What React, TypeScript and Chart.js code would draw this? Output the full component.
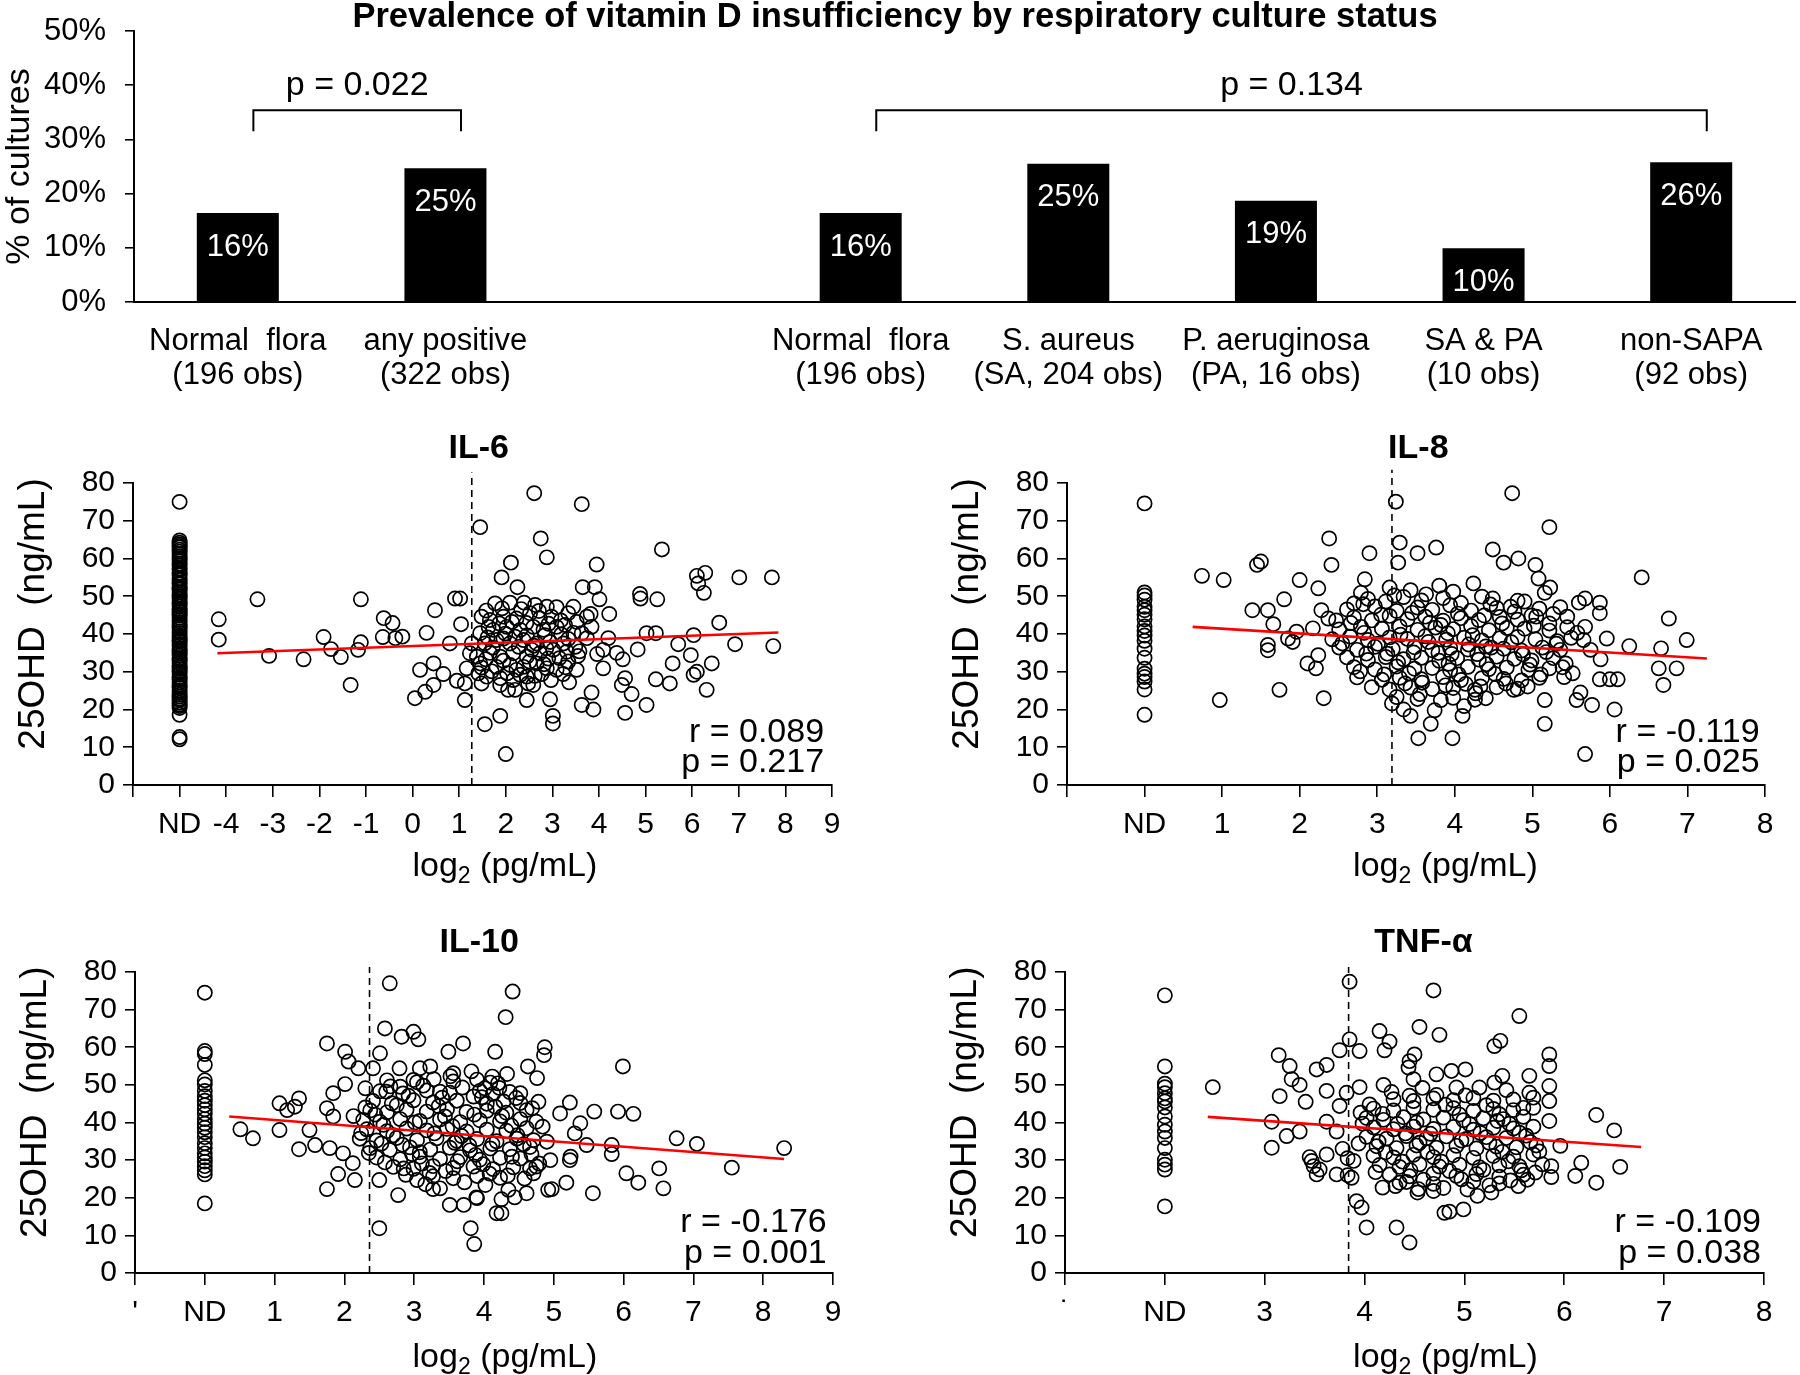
import React, { useEffect, useRef } from "react";
import { Chart, registerables } from "chart.js";
Chart.register(...registerables);

const FONT = "'Liberation Sans', Arial, Helvetica, sans-serif";

// ---------------- top panel data ----------------
const chartTitle = "Prevalence of vitamin D insufficiency by respiratory culture status";
const cultureGroups = ["Normal  flora", "any positive", "", "Normal  flora", "S. aureus", "P. aeruginosa", "SA & PA", "non-SAPA"];
const cultureObs = ["(196 obs)", "(322 obs)", "", "(196 obs)", "(SA, 204 obs)", "(PA, 16 obs)", "(10 obs)", "(92 obs)"];
const insufficiencyPct = [16.4, 24.7, null, 16.4, 25.5, 18.7, 9.9, 25.8];
const insufficiencyLabels = ["16%", "25%", "", "16%", "25%", "19%", "10%", "26%"];
const pctTicks = [0, 10, 20, 30, 40, 50];
const comparisonPairs = [[0, 1], [3, 7]];
const comparisonP = ["p = 0.022", "p = 0.134"];

// ---------------- scatter data ----------------
const il6ND = [75.0, 64.8, 64.2, 63.7, 63.3, 62.9, 62.3, 61.8, 61.2, 60.6, 60.1, 59.8, 59.3, 58.6, 58.1, 57.4, 57.0, 56.2, 55.9, 55.5, 54.8, 54.3, 53.6, 53.1, 52.4, 52.0, 51.7, 51.1, 50.5, 50.1, 49.8, 49.3, 48.7, 48.2, 47.9, 47.3, 46.6, 46.2, 45.8, 45.3, 44.9, 44.3, 43.7, 43.2, 42.6, 42.1, 41.8, 41.3, 40.7, 40.2, 39.5, 39.1, 38.6, 38.2, 37.9, 37.3, 36.8, 36.2, 35.7, 35.3, 34.9, 34.3, 33.6, 33.2, 32.8, 32.2, 31.5, 31.1, 30.7, 30.2, 29.9, 29.3, 28.6, 28.2, 27.8, 27.2, 26.5, 26.1, 25.7, 25.1, 24.6, 23.9, 23.4, 22.9, 22.5, 21.8, 21.3, 20.9, 20.4, 18.6, 12.7, 12.1];
const il6Points = [
  [-4.16, 43.9], [-4.16, 38.5], [-3.33, 49.2], [-3.08, 34.2], [-2.34, 33.3], [-1.91, 39.2], [-1.75, 36.0], [-1.54, 33.9], [-1.33, 26.5], [-1.17, 35.8], [-1.11, 37.8], [-1.11, 49.2], [-0.62, 44.2], [-0.64, 39.2], [-0.43, 42.9], [-0.37, 38.9], [-0.22, 39.3],
  [2.61, 77.3], [3.63, 74.4], [1.45, 68.3], [2.75, 65.3], [2.88, 60.3], [2.11, 58.9], [3.95, 58.4], [5.35, 62.4], [1.91, 55.0], [2.25, 52.4], [3.65, 52.4], [3.91, 52.4], [4.01, 49.2], [6.10, 55.4], [6.28, 56.2], [6.13, 53.4], [6.25, 50.9], [7.01, 55.0], [7.71, 55.0], [4.88, 50.6], [4.89, 49.4], [5.25, 49.2], [0.91, 49.4], [1.02, 49.4], [0.48, 46.3], [1.04, 42.6], [4.22, 45.3], [3.82, 45.3], [6.58, 43.0], [5.02, 40.2], [5.22, 40.2], [4.20, 38.9], [6.03, 39.7], [6.92, 37.3], [7.74, 36.8], [5.70, 37.3], [4.83, 35.9], [4.38, 35.0], [4.51, 33.3], [3.96, 34.7], [4.09, 30.9], [5.58, 32.2], [5.97, 34.4], [6.42, 32.2], [6.10, 30.0], [6.03, 29.2], [6.31, 25.2], [5.22, 28.0], [5.52, 26.9], [4.56, 28.3], [4.49, 26.5], [4.70, 24.1], [5.02, 21.2], [4.56, 19.1], [3.84, 24.5], [3.63, 21.2], [3.88, 20.0], [2.95, 22.7], [3.01, 18.3], [3.01, 16.3], [2.00, 8.2], [1.88, 18.3], [1.55, 16.1], [2.45, 22.5], [2.20, 25.2], [1.88, 26.5], [1.48, 26.9], [1.12, 22.5], [1.12, 26.9], [0.95, 27.6], [0.66, 29.4], [0.45, 32.2], [0.16, 30.5], [0.05, 23.0], [0.27, 24.7], [0.45, 26.5], [0.30, 40.3], [0.80, 37.5], [1.23, 34.9], [1.16, 30.9], [3.23, 29.4], [3.52, 30.5], [4.09, 35.8],
  [1.77, 48.1], [2.09, 48.3], [2.39, 48.3], [2.63, 47.7], [2.88, 47.2], [3.09, 47.1], [3.34, 45.5], [1.48, 44.6], [1.66, 43.7], [1.95, 44.6], [2.23, 44.1], [2.52, 45.5], [2.73, 44.1], [2.98, 44.6], [1.45, 40.2], [1.73, 41.1], [2.02, 41.9], [2.31, 41.1], [2.59, 41.9], [2.81, 41.1], [3.09, 41.9], [3.45, 40.3], [3.63, 40.2], [1.55, 37.5], [1.80, 38.4], [2.09, 37.5], [2.38, 38.4], [2.66, 37.5], [2.95, 37.9], [3.24, 37.5], [3.49, 36.6], [1.66, 35.0], [1.88, 34.0], [2.16, 34.9], [2.45, 34.0], [2.73, 34.9], [3.02, 35.8], [3.31, 35.3], [1.45, 32.2], [1.80, 31.3], [2.09, 31.8], [2.38, 31.3], [2.66, 32.2], [2.88, 30.9], [3.09, 30.5], [1.59, 28.7], [1.88, 28.3], [2.16, 27.8], [2.45, 28.7], [2.59, 26.5], [1.41, 29.6], [1.27, 37.5], [2.23, 30.5], [2.77, 29.4], [2.48, 26.9], [2.05, 25.2], [1.63, 41.9], [2.20, 39.3], [2.56, 35.8], [2.91, 33.5], [3.34, 32.7], [3.74, 38.9], [3.84, 41.9], [3.74, 44.6], [3.45, 47.2], [1.95, 38.8], [1.38, 34.0],
  [1.58, 46.2], [1.92, 46.8], [2.33, 46.6], [2.71, 46.1], [3.18, 43.6], [3.52, 43.2], [1.86, 42.8], [2.13, 43.2], [2.44, 42.9], [2.92, 42.7], [3.27, 42.4], [1.61, 39.1], [1.99, 40.1], [2.45, 39.6], [2.84, 39.7], [3.34, 38.7], [3.58, 35.4], [1.72, 36.4], [2.28, 36.6], [2.60, 36.9], [3.15, 33.6], [3.55, 34.2], [1.57, 33.3], [1.95, 32.9], [2.51, 32.7], [2.82, 32.0], [3.28, 31.2], [1.70, 30.1], [2.31, 29.2], [2.62, 28.9], [2.97, 27.8], [3.36, 27.2], [1.48, 31.1], [2.03, 29.6], [2.87, 36.2], [3.19, 39.9]
];
const il6Fit = [[-4.19, 34.9], [7.85, 40.4]];
const il6Cut = 1.27;
const il6Stats = ["r = 0.089", "p = 0.217"];

const il8ND = [74.6, 18.6, 25.3, 27.4, 28.6, 29.5, 30.8, 33.7, 36.1, 38.2, 39.6, 40.8, 42.0, 43.9, 45.1, 46.3, 47.2, 49.1, 50.2, 51.0];
const il8Points = [
  [3.24, 75.05], [4.74, 77.3], [5.22, 68.3], [2.38, 65.3], [2.41, 58.3], [2.90, 61.4], [3.29, 64.2], [3.27, 58.9], [3.52, 61.4], [3.76, 62.9], [4.49, 62.4], [4.63, 58.9], [4.82, 60.0], [5.04, 58.3], [5.08, 54.7], [5.23, 52.3], [5.16, 50.9], [6.41, 55.0], [1.45, 58.3], [1.50, 59.2], [0.74, 55.4], [1.02, 54.3], [2.00, 54.3], [2.24, 52.1], [1.80, 49.2], [2.84, 54.5], [2.79, 50.9], [2.70, 48.1], [1.39, 46.3], [1.59, 46.3], [1.66, 42.6], [2.28, 46.3], [2.37, 44.1], [2.17, 41.5], [1.96, 40.6], [1.85, 38.8], [1.91, 37.9], [1.59, 37.1], [1.59, 35.7], [2.10, 32.2], [2.21, 30.9], [2.24, 34.4], [0.97, 22.5], [1.74, 25.2], [2.31, 23.0], [6.76, 44.1], [6.99, 38.4], [6.25, 36.8], [6.66, 36.2], [6.63, 30.9], [6.86, 30.9], [6.69, 26.5], [5.87, 48.3], [5.68, 49.4], [5.60, 48.3], [5.87, 45.5], [5.96, 38.8], [5.68, 41.9], [5.88, 33.3], [6.00, 28.0], [6.10, 28.0], [5.87, 28.0], [5.62, 24.5], [5.57, 22.5], [5.77, 21.2], [6.06, 20.0], [5.16, 22.5], [5.16, 16.2], [5.68, 8.2], [3.53, 12.4], [3.97, 12.4], [3.69, 16.2], [3.43, 18.3], [3.34, 20.0], [4.10, 18.3], [3.82, 22.5], [4.40, 23.0], [4.76, 25.2], [5.52, 29.6], [5.43, 32.2], [4.24, 53.4], [4.49, 49.4], [4.72, 47.2], [4.90, 48.6], [5.05, 44.6], [5.22, 42.8], [5.45, 44.6], [5.66, 38.4], [5.75, 35.8],
  [3.16, 52.3], [3.43, 51.6], [3.80, 52.8], [3.98, 51.2],
  [2.88, 49.3], [3.11, 48.6], [3.34, 49.8], [3.57, 48.9], [3.85, 49.5], [4.08, 48.2], [4.35, 49.9], [4.81, 48.8],
  [2.61, 46.5], [2.97, 47.3], [3.25, 46.1], [3.52, 47.0], [3.71, 46.4], [3.94, 47.6], [4.21, 46.2], [4.54, 46.9], [5.09, 46.7], [5.36, 47.1],
  [2.70, 44.4], [2.93, 43.6], [3.16, 44.8], [3.39, 43.9], [3.62, 44.6], [3.85, 43.5], [4.08, 44.2], [4.31, 43.7], [4.58, 44.5], [4.81, 43.8], [4.99, 44.9],
  [2.51, 41.2], [2.79, 41.9], [3.06, 41.4], [3.29, 42.0], [3.52, 41.1], [3.75, 41.7], [3.98, 41.3], [4.21, 42.1], [4.44, 41.0], [4.67, 41.6], [4.90, 41.4], [5.22, 40.9], [5.45, 41.8],
  [2.42, 38.6], [2.65, 39.3], [2.88, 38.4], [3.16, 39.1], [3.39, 38.7], [3.62, 39.4], [3.89, 38.5], [4.12, 39.0], [4.35, 38.3], [4.58, 38.9], [4.81, 39.2], [5.04, 38.6], [5.32, 38.1], [5.50, 39.0],
  [2.51, 36.4], [2.74, 35.8], [2.97, 36.6], [3.20, 36.0], [3.48, 36.5], [3.71, 35.7], [3.94, 36.3], [4.17, 35.9], [4.40, 36.7], [4.63, 36.1], [4.86, 35.6], [5.13, 36.4], [5.36, 35.8],
  [2.61, 33.8], [2.88, 33.1], [3.11, 33.9], [3.34, 33.3], [3.57, 33.7], [3.80, 32.9], [4.03, 33.6], [4.31, 33.2], [4.54, 34.0], [4.77, 33.4], [4.99, 33.0], [5.27, 33.6],
  [2.70, 31.2], [2.97, 30.6], [3.25, 31.4], [3.48, 30.8], [3.71, 31.0], [3.94, 30.4], [4.17, 31.3], [4.44, 30.7], [4.67, 31.1], [4.95, 30.5], [5.22, 30.9],
  [2.74, 28.5], [3.06, 27.9], [3.29, 28.4], [3.57, 28.0], [3.85, 28.6], [4.08, 27.8], [4.35, 28.3], [4.63, 28.1], [4.86, 27.7], [5.09, 28.4],
  [2.93, 25.9], [3.16, 25.3], [3.43, 25.8], [3.71, 25.4], [3.98, 25.7], [4.26, 25.2], [4.54, 25.9], [4.81, 25.5],
  [3.25, 23.3], [3.52, 22.8], [3.98, 23.1], [4.26, 22.6],
  [2.66, 42.9], [2.83, 40.3], [3.01, 37.4], [3.13, 34.8], [3.27, 32.5], [3.41, 29.6], [3.58, 27.1], [3.66, 37.9], [3.79, 35.0], [3.92, 32.1], [4.05, 29.3], [4.14, 26.8], [4.27, 24.3], [3.45, 45.6], [3.68, 43.0], [3.91, 40.2], [4.04, 45.4], [4.18, 37.2], [4.29, 34.7], [4.41, 32.0], [4.52, 29.4], [4.66, 26.9], [4.73, 37.8], [4.88, 34.6], [4.97, 31.9], [5.11, 29.3], [5.18, 35.2], [5.31, 37.4], [5.39, 31.2], [4.46, 47.8], [4.61, 42.8], [4.77, 45.9], [3.05, 45.1], [2.82, 47.9], [3.22, 50.2], [3.63, 50.5], [3.55, 24.1], [3.36, 26.9], [3.09, 29.3], [2.86, 34.8], [2.55, 37.5], [2.47, 43.6], [2.78, 30.1], [3.74, 19.8], [3.88, 26.4], [4.12, 20.9], [4.33, 26.1], [3.19, 21.6], [3.47, 35.1], [3.96, 34.7], [4.23, 39.7], [4.47, 36.4], [5.02, 42.2], [5.27, 45.3], [5.58, 40.3], [5.41, 28.6], [4.94, 26.1], [3.30, 39.8], [3.82, 42.4], [4.38, 44.9]
];
const il8Fit = [[0.62, 41.9], [7.25, 33.5]];
const il8Cut = 3.19;
const il8Stats = ["r = -0.119", "p = 0.025"];

const il10ND = [74.5, 18.5, 26.2, 27.3, 28.4, 29.6, 30.7, 31.8, 33.2, 34.5, 36.1, 37.4, 38.6, 39.7, 40.9, 42.3, 43.5, 44.6, 45.8, 47.0, 48.4, 50.1, 51.2, 55.3, 58.2, 59.0];
const il10Points = [
  [2.65, 77.0], [4.41, 74.8], [4.31, 68.0], [2.58, 65.0], [2.82, 62.8], [2.99, 64.1], [3.06, 62.1], [1.75, 61.0], [3.70, 61.0], [3.49, 58.8], [4.16, 58.8], [4.87, 60.0], [4.86, 57.9], [2.01, 58.8], [2.51, 58.4], [2.06, 56.2], [2.20, 54.4], [2.41, 54.4], [2.79, 54.4], [3.08, 54.4], [3.23, 54.9], [3.56, 53.1], [4.63, 54.9], [5.99, 54.9], [4.76, 51.8], [4.12, 52.2], [4.01, 49.1], [4.20, 50.4], [2.01, 50.2], [1.84, 47.8], [2.30, 49.1], [2.60, 48.2], [2.80, 49.5], [2.99, 51.3], [3.37, 48.2], [3.85, 46.9], [4.52, 47.8], [4.78, 45.5], [5.23, 45.3], [5.58, 42.9], [5.92, 42.9], [6.14, 42.3], [6.76, 35.8], [7.05, 34.3], [5.83, 34.0], [5.83, 31.6], [5.47, 34.0], [5.23, 30.0], [4.95, 30.0], [6.04, 26.5], [6.21, 24.0], [6.51, 27.8], [6.57, 22.5], [5.56, 21.2], [5.18, 24.0], [4.97, 22.3], [4.61, 21.2], [4.25, 19.6], [4.18, 15.9], [4.25, 15.9], [3.81, 11.9], [3.86, 7.7], [3.51, 18.1], [3.71, 18.1], [3.90, 19.9], [2.50, 11.9], [1.75, 22.3], [2.50, 24.7], [2.77, 20.7], [2.15, 24.7], [1.91, 26.3], [2.12, 29.2], [1.98, 31.8], [1.79, 33.2], [1.58, 34.0], [1.35, 32.9], [0.69, 35.8], [0.51, 38.2], [1.07, 38.0], [1.50, 38.0], [1.07, 45.1], [1.18, 43.3], [1.35, 46.4], [1.29, 44.2], [1.75, 43.8], [1.84, 41.6], [2.13, 41.7], [2.30, 44.0], [2.85, 27.8], [3.04, 24.7], [3.27, 22.3], [3.37, 22.5], [3.89, 20.1], [4.35, 22.1], [4.44, 20.1], [4.71, 26.5], [4.75, 28.3], [4.92, 22.1], [4.90, 34.9], [5.24, 30.9], [5.30, 37.1], [5.38, 39.8], [5.09, 42.4], [8.30, 33.2], [7.55, 28.0],
  [2.61, 51.2], [3.04, 50.7], [3.28, 51.5], [3.56, 50.9], [3.90, 51.4], [4.09, 50.6],
  [2.51, 48.3], [2.84, 47.7], [3.18, 48.5], [3.51, 47.9], [3.94, 48.4], [4.13, 47.6], [4.37, 48.1],
  [2.41, 45.7], [2.68, 45.1], [2.99, 45.9], [3.27, 45.3], [3.61, 45.8], [4.04, 45.0], [4.28, 45.6], [4.52, 45.2],
  [2.37, 43.2], [2.61, 42.7], [2.89, 43.4], [3.18, 42.9], [3.47, 43.5], [3.75, 42.8], [4.04, 43.1], [4.32, 42.6], [4.61, 43.3],
  [2.27, 40.7], [2.51, 40.2], [2.80, 40.9], [3.08, 40.4], [3.37, 40.8], [3.66, 40.1], [3.94, 40.6], [4.23, 40.3], [4.52, 40.9], [4.75, 40.2],
  [2.32, 38.2], [2.61, 37.7], [2.89, 38.4], [3.18, 37.9], [3.47, 38.3], [3.75, 37.6], [4.04, 38.1], [4.32, 37.8], [4.61, 38.5],
  [2.22, 35.7], [2.46, 35.2], [2.75, 35.9], [3.04, 35.3], [3.32, 35.8], [3.61, 35.1], [3.90, 35.6], [4.18, 35.0], [4.47, 35.7], [4.71, 35.3],
  [2.37, 33.2], [2.65, 32.7], [2.94, 33.4], [3.23, 32.8], [3.51, 33.3], [3.80, 32.6], [4.09, 33.1], [4.37, 32.9], [4.66, 33.5],
  [2.46, 30.7], [2.80, 30.2], [3.08, 30.9], [3.37, 30.3], [3.66, 30.8], [3.94, 30.1], [4.23, 30.6], [4.52, 30.4],
  [2.70, 28.2], [2.99, 27.7], [3.27, 28.4], [3.56, 27.9], [3.85, 28.3], [4.13, 27.6], [4.42, 28.1], [4.66, 27.8],
  [3.27, 25.7], [3.56, 25.2], [3.90, 25.8], [4.23, 25.3],
  [2.44, 42.1], [2.56, 39.4], [2.70, 36.6], [2.83, 34.1], [2.97, 31.6], [3.11, 29.1], [3.22, 26.6], [3.35, 44.3], [3.44, 41.6], [3.55, 39.0], [3.68, 36.4], [3.79, 33.9], [3.88, 31.4], [3.99, 28.9], [4.08, 26.4], [4.16, 44.2], [4.26, 41.7], [4.39, 39.2], [4.48, 36.6], [4.57, 34.2], [4.68, 31.6], [4.79, 29.1], [2.66, 49.6], [2.92, 47.1], [3.13, 49.8], [3.40, 46.6], [3.69, 49.3], [3.97, 46.7], [4.22, 49.2], [4.46, 46.5], [4.69, 43.8], [4.84, 38.9], [2.35, 31.9], [2.58, 29.4], [2.88, 26.1], [3.16, 23.6], [3.45, 27.1], [3.72, 24.1], [4.02, 23.4], [4.34, 25.9], [4.58, 25.1], [2.24, 37.2], [2.53, 34.4], [3.01, 40.0], [3.29, 37.1], [3.58, 34.6], [3.86, 42.1], [4.12, 34.3], [4.40, 30.9], [3.62, 29.7], [3.08, 32.1], [2.75, 44.6], [3.52, 52.3], [3.82, 53.6], [4.33, 52.9]
];
const il10Fit = [[0.35, 41.6], [8.3, 30.3]];
const il10Cut = 2.36;
const il10Stats = ["r = -0.176", "p = 0.001"];

const tnfND = [73.8, 54.9, 50.3, 49.4, 47.8, 46.4, 45.6, 44.0, 41.6, 39.4, 37.6, 35.9, 33.2, 30.1, 28.8, 27.5, 17.7];
const tnfPoints = [
  [3.85, 77.4], [4.69, 75.1], [5.55, 68.3], [2.48, 49.4], [3.14, 57.9], [3.25, 55.0], [3.27, 51.5], [3.35, 50.0], [3.15, 47.0], [3.62, 48.4], [3.52, 54.1], [3.62, 55.3], [3.75, 59.2], [3.85, 62.1], [3.95, 59.0], [4.15, 64.3], [4.25, 61.5], [4.20, 59.2], [4.55, 65.4], [4.75, 63.3], [5.30, 60.3], [5.36, 61.7], [5.01, 54.1], [5.38, 52.4], [5.65, 52.4], [5.85, 58.1], [5.85, 55.0], [5.85, 49.7], [5.85, 45.7], [5.85, 40.4], [6.32, 42.0], [6.50, 37.9], [6.56, 28.2], [6.32, 24.0], [6.17, 29.3], [6.11, 25.8], [5.87, 25.5], [5.87, 28.4], [5.96, 33.8], [5.54, 23.1], [4.99, 16.9], [4.80, 16.0], [4.85, 16.3], [3.92, 19.1], [3.97, 17.4], [4.02, 12.1], [4.32, 12.1], [4.45, 8.1], [5.13, 20.5], [5.27, 21.4], [4.69, 21.8], [4.53, 21.4], [4.35, 24.0], [4.18, 22.7], [3.87, 25.3], [3.89, 29.8], [3.72, 26.2], [3.49, 28.4], [3.47, 29.8], [3.52, 26.2], [3.07, 33.3], [3.22, 36.4], [3.35, 37.6], [3.07, 40.2], [3.41, 45.5], [3.62, 40.2], [3.72, 37.6], [3.75, 44.4], [3.82, 47.9], [3.95, 49.4], [4.19, 50.0], [4.49, 51.5], [4.45, 56.3], [4.50, 58.1], [4.44, 54.6], [4.72, 52.8], [4.87, 53.7], [4.92, 49.3], [5.15, 49.3], [5.30, 50.6], [5.65, 47.9], [5.69, 46.6], [5.59, 43.9], [3.83, 30.5], [3.83, 26.0], [3.45, 30.8], [3.55, 27.5], [3.62, 31.5], [3.78, 33.0],
  [4.29, 46.2], [4.49, 45.7], [4.69, 46.4], [4.89, 45.9], [5.09, 46.5], [5.29, 45.8], [5.49, 46.1],
  [4.09, 43.7], [4.29, 43.2], [4.49, 43.9], [4.69, 43.4], [4.89, 43.8], [5.09, 43.1], [5.29, 43.6], [5.49, 43.3], [5.69, 43.9],
  [4.02, 41.2], [4.19, 40.7], [4.39, 41.4], [4.59, 40.8], [4.79, 41.3], [4.99, 40.6], [5.19, 41.1], [5.39, 40.9], [5.59, 41.5],
  [4.09, 38.7], [4.29, 38.2], [4.49, 38.9], [4.69, 38.3], [4.89, 38.8], [5.09, 38.1], [5.29, 38.6], [5.49, 38.4], [5.69, 38.9],
  [4.02, 36.2], [4.22, 35.7], [4.42, 36.4], [4.62, 35.8], [4.82, 36.3], [5.02, 35.6], [5.22, 36.1], [5.42, 35.9], [5.62, 36.5],
  [4.12, 33.7], [4.32, 33.2], [4.52, 33.9], [4.72, 33.3], [4.92, 33.8], [5.12, 33.1], [5.32, 33.6], [5.52, 33.4], [5.72, 33.9],
  [4.09, 31.2], [4.29, 30.7], [4.49, 31.4], [4.69, 30.8], [4.89, 31.3], [5.09, 30.6], [5.29, 31.1], [5.49, 30.9], [5.69, 31.5],
  [4.15, 28.7], [4.35, 28.2], [4.55, 28.9], [4.75, 28.3], [4.95, 28.8], [5.15, 28.1], [5.35, 28.6], [5.55, 28.4],
  [4.25, 26.2], [4.45, 25.7], [4.69, 26.4], [4.92, 25.8], [5.12, 26.3], [5.35, 25.6], [5.59, 26.1],
  [4.42, 24.2], [4.69, 23.7], [5.09, 24.3], [5.35, 23.8],
  [4.05, 44.8], [4.18, 42.3], [4.33, 39.6], [4.41, 37.1], [4.55, 34.6], [4.63, 32.1], [4.77, 29.6], [4.85, 27.1], [4.97, 24.9], [4.14, 34.9], [4.21, 32.1], [4.38, 29.6], [4.46, 27.3], [4.59, 24.8], [4.72, 47.3], [4.81, 44.7], [4.95, 42.1], [5.05, 39.6], [5.16, 37.2], [5.25, 34.6], [5.38, 32.2], [5.44, 29.7], [5.57, 27.3], [5.63, 24.8], [5.01, 47.2], [5.22, 44.6], [5.35, 42.2], [5.45, 39.7], [5.55, 37.3], [5.66, 34.8], [5.75, 32.3], [5.78, 28.9], [5.71, 26.7], [4.27, 48.1], [4.58, 49.2], [5.42, 48.6], [4.11, 26.8], [4.31, 23.1], [4.54, 22.3], [4.79, 22.6], [5.03, 22.2], [5.25, 23.3], [5.46, 24.6], [3.98, 39.7], [3.94, 34.4], [4.52, 40.0], [4.97, 35.2], [5.19, 27.4], [4.66, 37.0], [5.33, 40.4], [3.96, 42.6], [4.45, 47.1]
];
const tnfFit = [[2.43, 41.5], [6.77, 33.5]];
const tnfCut = 3.84;
const tnfStats = ["r = -0.109", "p = 0.038"];

const vitDTicks = [0, 10, 20, 30, 40, 50, 60, 70, 80];
const yTitle = "25OHD  (ng/mL)";

// ---------------- layout (positions, not data) ----------------
type PanelSpec = {
  title: string; left: number; top: number; w: number; h: number;
  area: { l: number; r: number; t: number; b: number };
  xMin: number; xMax: number; ndX: number; edgeLabel: string;
  nd: number[]; pts: number[][]; fit: number[][]; cut: number; cutTop: number; stats: string[];
  titleAt: number[]; statX: number; statY: number[]; xTitleAt: number[]; yTitleY: number;
};

const panels: PanelSpec[] = [
  { title: "IL-6", left: 0, top: 420, w: 900, h: 470, area: { l: 133, r: 832, t: 63, b: 365 }, xMin: -6, xMax: 9, ndX: -5, edgeLabel: "",
    nd: il6ND, pts: il6Points, fit: il6Fit, cut: il6Cut, cutTop: 82.8, stats: il6Stats,
    titleAt: [1.42, 89.0], statX: 8.83, statY: [13.8, 5.8], xTitleAt: [1.98, -20.9], yTitleY: 45.3 },
  { title: "IL-8", left: 900, top: 420, w: 900, h: 470, area: { l: 167, r: 865, t: 63, b: 365 }, xMin: -1, xMax: 8, ndX: 0, edgeLabel: "",
    nd: il8ND, pts: il8Points, fit: il8Fit, cut: il8Cut, cutTop: 83.5, stats: il8Stats,
    titleAt: [3.53, 89.0], statX: 7.93, statY: [13.8, 5.8], xTitleAt: [3.88, -20.9], yTitleY: 45.3 },
  { title: "IL-10", left: 0, top: 900, w: 900, h: 475, area: { l: 135, r: 833, t: 72, b: 373 }, xMin: -1, xMax: 9, ndX: 0, edgeLabel: "'",
    nd: il10ND, pts: il10Points, fit: il10Fit, cut: il10Cut, cutTop: 81.3, stats: il10Stats,
    titleAt: [3.93, 87.7], statX: 8.91, statY: [13.3, 5.05], xTitleAt: [4.30, -21.8], yTitleY: 45.4 },
  { title: "TNF-α", left: 900, top: 900, w: 900, h: 475, area: { l: 165, r: 864, t: 72, b: 373 }, xMin: 1, xMax: 8, ndX: 2, edgeLabel: "˙",
    nd: tnfND, pts: tnfPoints, fit: tnfFit, cut: tnfCut, cutTop: 81.3, stats: tnfStats,
    titleAt: [4.59, 87.7], statX: 7.97, statY: [13.3, 5.05], xTitleAt: [4.81, -21.8], yTitleY: 45.4 },
];

function drawLogTitle(ctx: CanvasRenderingContext2D, cx: number, cy: number) {
  const big = `34px ${FONT}`;
  const small = `23px ${FONT}`;
  ctx.font = big;
  const w1 = ctx.measureText("log").width;
  const w3 = ctx.measureText(" (pg/mL)").width;
  ctx.font = small;
  const w2 = ctx.measureText("2").width;
  const total = w1 + w2 + w3;
  let x = cx - total / 2;
  ctx.textAlign = "left";
  ctx.textBaseline = "alphabetic";
  const base = cy + 12;
  ctx.font = big;
  ctx.fillText("log", x, base);
  x += w1;
  ctx.font = small;
  ctx.fillText("2", x, base + 7);
  x += w2;
  ctx.font = big;
  ctx.fillText(" (pg/mL)", x, base);
}

function scatterConfig(p: PanelSpec): any {
  const annot = {
    id: "annot",
    afterDraw(chart: any) {
      const { ctx, scales, chartArea } = chart;
      const xs = scales.x, ys = scales.y;
      ctx.save();
      ctx.fillStyle = "#000";
      ctx.font = `bold 34px ${FONT}`;
      ctx.textAlign = "center";
      ctx.textBaseline = "middle";
      ctx.fillText(p.title, xs.getPixelForValue(p.titleAt[0]), ys.getPixelForValue(p.titleAt[1]));
      ctx.font = `34px ${FONT}`;
      ctx.textAlign = "right";
      ctx.fillText(p.stats[0], xs.getPixelForValue(p.statX), ys.getPixelForValue(p.statY[0]));
      ctx.fillText(p.stats[1], xs.getPixelForValue(p.statX), ys.getPixelForValue(p.statY[1]));
      drawLogTitle(ctx, xs.getPixelForValue(p.xTitleAt[0]), ys.getPixelForValue(p.xTitleAt[1]));
      ctx.translate(chartArea.left - 99, ys.getPixelForValue(p.yTitleY));
      ctx.rotate(-Math.PI / 2);
      ctx.font = `37px ${FONT}`;
      ctx.textAlign = "center";
      ctx.textBaseline = "middle";
      ctx.fillText(yTitle, 0, 0);
      ctx.restore();
    },
  };
  const points = [...p.nd.map((v) => ({ x: p.ndX, y: v })), ...p.pts.map(([x, y]) => ({ x, y }))];
  return {
    type: "scatter",
    data: {
      datasets: [
        { data: p.fit.map(([x, y]) => ({ x, y })), showLine: true, borderColor: "#ff0000", borderWidth: 2.6, pointRadius: 0, order: 0, clip: false },
        { data: [{ x: p.cut, y: 0 }, { x: p.cut, y: p.cutTop }], showLine: true, borderColor: "#000", borderWidth: 1.6, borderDash: [7, 5], pointRadius: 0, order: 1, clip: false },
        { data: points, pointStyle: "circle", pointRadius: 7.1, borderWidth: 1.7, borderColor: "#000", backgroundColor: "rgba(0,0,0,0)", order: 2, clip: false },
      ],
    },
    options: {
      responsive: false,
      animation: false,
      devicePixelRatio: 1,
      events: [],
      layout: { padding: { left: 0, top: p.area.t, right: p.w - p.area.r, bottom: 0 } },
      plugins: { legend: { display: false }, tooltip: { enabled: false }, title: { display: false } },
      scales: {
        x: {
          type: "linear", min: p.xMin, max: p.xMax,
          ticks: {
            stepSize: 1, color: "#000", font: { family: FONT, size: 30 }, padding: 10, autoSkip: false, maxRotation: 0,
            callback: (v: number) => { const r = Math.round(v); return r === p.ndX ? "ND" : r === p.xMin ? p.edgeLabel : String(r); },
          },
          grid: { display: true, drawOnChartArea: false, drawTicks: true, tickLength: 12, color: "#000", lineWidth: 1.6 },
          border: { display: true, color: "#000", width: 2 },
          afterFit: (s: any) => { s.height = p.h - p.area.b; },
        },
        y: {
          type: "linear", min: 0, max: 80,
          afterBuildTicks: (s: any) => { s.ticks = vitDTicks.map((v) => ({ value: v })); },
          ticks: { color: "#000", font: { family: FONT, size: 30, lineHeight: 0.9 }, padding: 8, autoSkip: false },
          grid: { display: true, drawOnChartArea: false, drawTicks: true, tickLength: 10, color: "#000", lineWidth: 1.6 },
          border: { display: true, color: "#000", width: 2 },
          afterFit: (s: any) => { s.width = p.area.l; },
        },
      },
    },
    plugins: [annot],
  };
}

function barConfig(): any {
  const annot = {
    id: "topAnnot",
    afterDraw(chart: any) {
      const { ctx, scales, chartArea } = chart;
      const xs = scales.x, ys = scales.y;
      ctx.save();
      ctx.fillStyle = "#000";
      ctx.font = `bold 34.5px ${FONT}`;
      ctx.textAlign = "center";
      ctx.textBaseline = "middle";
      ctx.fillText(chartTitle, 895, 17);
      const meta = chart.getDatasetMeta(0);
      ctx.fillStyle = "#fff";
      ctx.font = `31px ${FONT}`;
      meta.data.forEach((bar: any, i: number) => {
        if (insufficiencyPct[i] == null) return;
        ctx.fillText(insufficiencyLabels[i], bar.x, bar.y + 34);
      });
      ctx.fillStyle = "#000";
      ctx.strokeStyle = "#000";
      ctx.lineWidth = 2;
      comparisonPairs.forEach(([a, b], k) => {
        const x0 = xs.getPixelForValue(a + 0.075);
        const x1 = xs.getPixelForValue(b + 0.075);
        const yt = ys.getPixelForValue(35.4);
        const yl = ys.getPixelForValue(31.5);
        ctx.beginPath();
        ctx.moveTo(x0, yl);
        ctx.lineTo(x0, yt);
        ctx.lineTo(x1, yt);
        ctx.lineTo(x1, yl);
        ctx.stroke();
        ctx.font = `34px ${FONT}`;
        ctx.fillText(comparisonP[k], (x0 + x1) / 2, ys.getPixelForValue(39.9));
      });
      ctx.translate(20, (chartArea.top + chartArea.bottom) / 2);
      ctx.rotate(-Math.PI / 2);
      ctx.font = `34px ${FONT}`;
      ctx.fillText("% of cultures", 0, 0);
      ctx.restore();
    },
  };
  return {
    type: "bar",
    data: {
      labels: cultureGroups.map((g, i) => [g, cultureObs[i]]),
      datasets: [{ data: insufficiencyPct, backgroundColor: "#000", borderWidth: 0, barPercentage: 0.395, categoryPercentage: 1 }],
    },
    options: {
      responsive: false,
      animation: false,
      devicePixelRatio: 1,
      events: [],
      layout: { padding: { left: 0, top: 31, right: 5, bottom: 0 } },
      plugins: { legend: { display: false }, tooltip: { enabled: false } },
      scales: {
        x: {
          grid: { display: false },
          border: { display: true, color: "#000", width: 2 },
          ticks: { color: "#000", font: { family: FONT, size: 31, lineHeight: 1.1 }, padding: 14, maxRotation: 0, autoSkip: false },
          afterFit: (s: any) => { s.height = 98; },
        },
        y: {
          min: 0, max: 50,
          afterBuildTicks: (s: any) => { s.ticks = pctTicks.map((v) => ({ value: v })); },
          ticks: { color: "#000", font: { family: FONT, size: 31, lineHeight: 0.7 }, padding: 19, autoSkip: false, callback: (v: number) => v + "%" },
          grid: { display: true, drawOnChartArea: false, drawTicks: true, tickLength: 9, color: "#000", lineWidth: 1.6 },
          border: { display: true, color: "#000", width: 2 },
          afterFit: (s: any) => { s.width = 134; },
        },
      },
    },
    plugins: [annot],
  };
}

function ChartCanvas({ left, top, w, h, make }: { left: number; top: number; w: number; h: number; make: () => any }) {
  const ref = useRef<HTMLCanvasElement | null>(null);
  useEffect(() => {
    if (!ref.current) return;
    const chart = new Chart(ref.current, make());
    return () => chart.destroy();
  }, []);
  return <canvas ref={ref} width={w} height={h} style={{ position: "absolute", left, top, width: w, height: h }} />;
}

export default function App() {
  return (
    <div style={{ position: "absolute", left: 0, top: 0, width: 1800, height: 1375, background: "#fff", overflow: "hidden" }}>
      <ChartCanvas left={0} top={0} w={1800} h={400} make={barConfig} />
      {panels.map((p) => (
        <ChartCanvas key={p.title} left={p.left} top={p.top} w={p.w} h={p.h} make={() => scatterConfig(p)} />
      ))}
    </div>
  );
}
